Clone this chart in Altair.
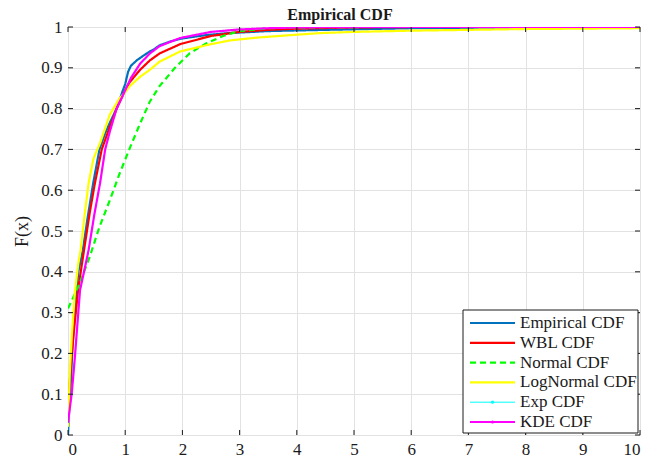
import altair as alt
import pandas as pd

chart_title = ["Empirical CDF"]
series_names = ["Empirical CDF", "WBL CDF", "Normal CDF", "LogNormal CDF", "Exp CDF", "KDE CDF"]
series_colors = ["#0072BD", "#FF0000", "#00FF00", "#FFFF00", "#00FFFF", "#FF00FF"]
series_dash = [[1, 0], [1, 0], [6, 4], [1, 0], [1, 0], [1, 0]]
series_width = [2.2, 2.2, 2.2, 2.2, 1.0, 2.2]

x_ticks = [0, 1, 2, 3, 4, 5, 6, 7, 8, 9, 10]
y_ticks = [0, 0.1, 0.2, 0.3, 0.4, 0.5, 0.6, 0.7, 0.8, 0.9, 1.0]

emp_x = [0, 0.02, 0.04, 0.08, 0.12, 0.18, 0.26, 0.34, 0.44, 0.55, 0.65, 0.73, 0.85, 0.96, 1.0, 1.05,
         1.1, 1.2, 1.3, 1.43, 1.5, 1.6, 1.8, 2.0, 2.4, 2.8, 3.5, 4.5, 6, 8, 10]
emp_y = [0.0, 0.06, 0.1, 0.22, 0.30, 0.40, 0.453, 0.53, 0.617, 0.70, 0.74, 0.765, 0.80, 0.845, 0.86, 0.89,
         0.905, 0.918, 0.928, 0.94, 0.945, 0.955, 0.965, 0.972, 0.98, 0.985, 0.99, 0.993, 0.997, 0.999, 1.0]

wbl_x = [0, 0.05, 0.1, 0.18, 0.28, 0.38, 0.47, 0.59, 0.73, 0.85, 1.0, 1.08, 1.26, 1.43, 1.6, 1.96,
         2.5, 3.0, 3.5, 4, 5, 6, 10]
wbl_y = [0.07, 0.17, 0.25, 0.36, 0.453, 0.545, 0.617, 0.70, 0.755, 0.80, 0.845, 0.865, 0.895, 0.918, 0.935, 0.958,
         0.978, 0.988, 0.993, 0.996, 0.999, 1.0, 1.0]

norm_x = [0, 0.2, 0.38, 0.55, 0.73, 0.9, 1.08, 1.25, 1.43, 1.6, 1.78, 1.87, 2.13, 2.42, 2.71, 3.0, 3.5, 4, 5, 10]
norm_y = [0.31, 0.37, 0.437, 0.51, 0.575, 0.64, 0.703, 0.76, 0.817, 0.855, 0.885, 0.90, 0.936, 0.96, 0.978, 0.99,
          0.997, 0.999, 1.0, 1.0]

logn_x = [0, 0.03, 0.07, 0.12, 0.18, 0.22, 0.30, 0.36, 0.44, 0.47, 0.56, 0.73, 0.9, 1.0, 1.08, 1.26, 1.43,
          1.6, 1.96, 2.5, 2.83, 3.3, 3.88, 4.4, 5, 6, 7, 8, 9, 10]
logn_y = [0.02, 0.15, 0.25, 0.35, 0.42, 0.453, 0.55, 0.617, 0.674, 0.686, 0.715, 0.785, 0.825, 0.84, 0.855, 0.878,
          0.895, 0.915, 0.94, 0.958, 0.967, 0.974, 0.98, 0.985, 0.988, 0.991, 0.993, 0.995, 0.996, 0.997]

exp_x = [0, 0.02, 0.064, 0.12, 0.21, 0.28, 0.36, 0.46, 0.56, 0.65, 0.73, 0.85, 1.0, 1.1, 1.26, 1.43, 1.6,
         1.96, 2.5, 3.0, 3.5, 4, 5, 10]
exp_y = [0.03, 0.053, 0.10, 0.19, 0.355, 0.40, 0.453, 0.54, 0.617, 0.70, 0.743, 0.80, 0.845, 0.875, 0.91, 0.935,
         0.953, 0.973, 0.988, 0.994, 0.997, 0.999, 1.0, 1.0]

kde_x = [0, 0.02, 0.064, 0.12, 0.21, 0.28, 0.36, 0.46, 0.56, 0.65, 0.73, 0.85, 1.0, 1.1, 1.26, 1.43, 1.6,
         1.96, 2.5, 3.0, 3.5, 4, 5, 10]
kde_y = [0.03, 0.053, 0.10, 0.19, 0.355, 0.40, 0.453, 0.54, 0.617, 0.70, 0.743, 0.80, 0.845, 0.875, 0.91, 0.935,
         0.953, 0.973, 0.988, 0.994, 0.997, 0.999, 1.0, 1.0]

all_x = [emp_x, wbl_x, norm_x, logn_x, exp_x, kde_x]
all_y = [emp_y, wbl_y, norm_y, logn_y, exp_y, kde_y]

rows = []
for name, xs, ys in zip(series_names, all_x, all_y):
    for xv, yv in zip(xs, ys):
        rows.append({"series": name, "x": xv, "y": yv})
df = pd.DataFrame(rows)

W, H = 572, 408
FONT = "Liberation Serif"
INK = "#1a1a1a"

xscale = alt.Scale(domain=[0, 10], nice=False, zero=False)
yscale = alt.Scale(domain=[0, 1], nice=False, zero=False)
color = alt.Color("series:N", scale=alt.Scale(domain=series_names, range=series_colors), legend=None)
dash = alt.StrokeDash("series:N", scale=alt.Scale(domain=series_names, range=series_dash), legend=None)

x_axis = alt.Axis(values=x_ticks, format="d", grid=True, gridColor="#e2e2e2", gridWidth=1,
                  tickSize=0, domain=False, labelFont=FONT, labelFontSize=17, labelColor=INK,
                  labelPadding=6, title=None)
y_axis = alt.Axis(values=y_ticks, format=".1~f", grid=True, gridColor="#e2e2e2", gridWidth=1,
                  tickSize=0, domain=False, labelFont=FONT, labelFontSize=17, labelColor=INK,
                  labelPadding=6, title="F(x)", titleFont=FONT, titleFontSize=18,
                  titleFontWeight="normal", titleColor=INK, titlePadding=9)

line_layers = []
for name, w in zip(series_names, series_width):
    line_layers.append(
        alt.Chart(df).transform_filter(alt.datum.series == name)
        .mark_line(strokeWidth=w, clip=True).encode(
            x=alt.X("x:Q", scale=xscale, axis=x_axis),
            y=alt.Y("y:Q", scale=yscale, axis=y_axis),
            color=color,
            strokeDash=dash,
        )
    )

xt = pd.DataFrame({"t": x_ticks})
yt = pd.DataFrame({"t": y_ticks})
tick_style = dict(color=INK, strokeWidth=1)
ticks = [
    alt.Chart(xt).mark_rule(**tick_style).encode(x=alt.X("t:Q", scale=xscale, axis=x_axis),
                                                  y=alt.value(H), y2=alt.value(H - 5)),
    alt.Chart(xt).mark_rule(**tick_style).encode(x=alt.X("t:Q", scale=xscale, axis=x_axis),
                                                  y=alt.value(0), y2=alt.value(5)),
    alt.Chart(yt).mark_rule(**tick_style).encode(y=alt.Y("t:Q", scale=yscale, axis=y_axis),
                                                  x=alt.value(0), x2=alt.value(5)),
    alt.Chart(yt).mark_rule(**tick_style).encode(y=alt.Y("t:Q", scale=yscale, axis=y_axis),
                                                  x=alt.value(W - 5), x2=alt.value(W)),
]

main = alt.layer(*line_layers, *ticks)

# legend (drawn manually to match the boxed MATLAB legend)
leg = pd.DataFrame({"series": series_names, "w": series_width})
leg_y = alt.Y("series:N", scale=alt.Scale(type="point", domain=series_names, range=[296, 395], padding=0),
              axis=None)
box = alt.Chart(pd.DataFrame({"a": [0]})).mark_rect(fill="white", stroke=INK, strokeWidth=1).encode(
    x=alt.value(395), x2=alt.value(570), y=alt.value(283), y2=alt.value(406))
leg_lines = alt.Chart(leg).mark_rule().encode(
    x=alt.value(402), x2=alt.value(447), y=leg_y, color=color, strokeDash=dash,
    strokeWidth=alt.StrokeWidth("w:Q", scale=None, legend=None))
leg_dots = alt.Chart(leg).transform_filter(
    (alt.datum.series == "Exp CDF") | (alt.datum.series == "KDE CDF")
).mark_circle(size=10, opacity=1).encode(x=alt.value(424.5), y=leg_y, color=color)
leg_text = alt.Chart(leg).mark_text(align="left", baseline="middle", font=FONT, fontSize=17,
                                    color=INK).encode(x=alt.value(452), y=leg_y, text="series:N")
legend = alt.layer(box, leg_lines, leg_dots, leg_text)

title_layer = alt.Chart(pd.DataFrame({"title": chart_title})).mark_text(
    align="center", baseline="alphabetic", font=FONT, fontSize=16, fontWeight="bold", color=INK,
    clip=False).encode(x=alt.value(W / 2 - 14), y=alt.value(-7.5), text="title:N")

chart = alt.layer(main, legend, title_layer).resolve_scale(y="independent").properties(
    width=W, height=H,
    autosize=alt.AutoSizeParams(type="none"),
    padding={"left": 60, "top": 19, "right": 19, "bottom": 29},
).configure_view(stroke=INK, strokeWidth=1).configure(background="white")

chart.save("out.html", embed_options={"renderer": "svg", "actions": False})
